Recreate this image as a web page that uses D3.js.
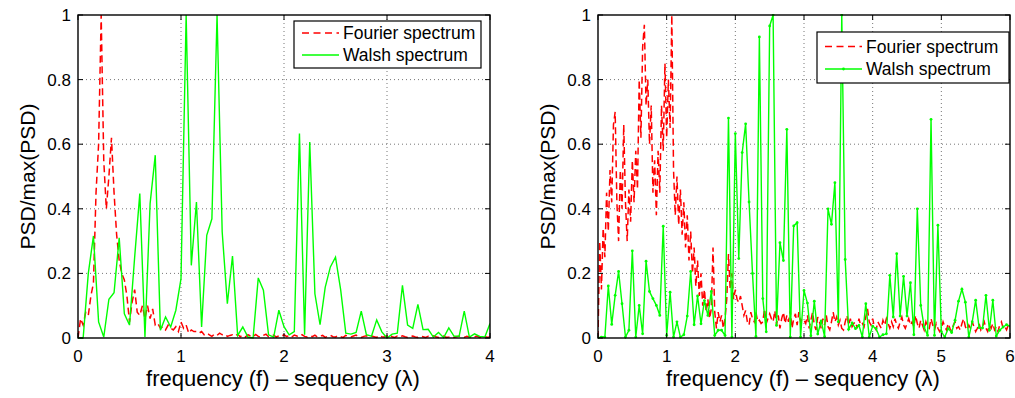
<!DOCTYPE html>
<html>
<head>
<meta charset="utf-8">
<script src="https://cdn.jsdelivr.net/npm/d3@7"></script>
<style>
  body { margin: 0; background: #fff; }
  svg { display: block; font-family: "Liberation Sans", Arial, Helvetica, sans-serif; }
</style>
</head>
<body>
<div id="chart"></div>
<script>
// left panel: f in [0,4]
const walshStepL = 0.05;
const walshL = [
  0, 0, 0.2, 0.316, 0.05, 0.003, 0.12, 0.14, 0.31, 0.075,
  0.04, 0.25, 0.447, 0.003, 0.416, 0.566, 0.024, 0.065, 0.034, 0.086,
  0.184, 1.0, 0.225, 0.421, 0.034, 0.318, 0.369, 1.0, 0.328, 0.106,
  0.254, 0.008, 0.034, 0.003, 0.0, 0.186, 0.148, 0.01, 0.003, 0.086,
  0.035, 0.01, 0.02, 0.633, 0.01, 0.607, 0.137, 0.041, 0.157, 0.22,
  0.25, 0.15, 0.015, 0.012, 0.017, 0.083, 0.01, 0.006, 0.056, 0.019,
  0.0, 0.012, 0.015, 0.163, 0.04, 0.03, 0.104, 0.026, 0.027, 0.003,
  0.017, 0.001, 0.031, 0.006, 0.005, 0.083, 0.003, 0.013, 0.005, 0.003,
  0.045
];
const fourierStepL = 0.025;
const fourierL = [
  0.0, 0.06, 0.04, 0.08, 0.07, 0.13, 0.17, 0.45, 0.6, 1.0,
  0.55, 0.4, 0.5, 0.62, 0.45, 0.32, 0.24, 0.2, 0.18, 0.13,
  0.05, 0.11, 0.15, 0.08, 0.07, 0.1, 0.06, 0.1, 0.06, 0.09,
  0.04, 0.045, 0.03, 0.035, 0.025, 0.04, 0.03, 0.025, 0.035, 0.02,
  0.05, 0.03, 0.04, 0.015, 0.025, 0.02, 0.02, 0.015, 0.02, 0.01,
  0.015, 0.01, 0.005, 0.012, 0.008, 0.015, 0.01, 0.012, 0.005, 0.008,
  0.01, 0.006, 0.012, 0.004, 0.009, 0.003, 0.01, 0.006, 0.004, 0.011,
  0.005, 0.003, 0.008, 0.012, 0.004, 0.006, 0.009, 0.003, 0.007, 0.005,
  0.01, 0.004, 0.008, 0.003, 0.009, 0.006, 0.004, 0.01, 0.005, 0.003,
  0.007, 0.004, 0.009, 0.003, 0.006, 0.008, 0.002, 0.005, 0.009, 0.004,
  0.003, 0.007, 0.004, 0.002, 0.008, 0.005, 0.003, 0.006, 0.009, 0.004,
  0.002, 0.005, 0.007, 0.003, 0.006, 0.004, 0.002, 0.008, 0.004, 0.003,
  0.006, 0.01, 0.004, 0.002, 0.006, 0.003, 0.007, 0.004, 0.002, 0.005,
  0.006, 0.003, 0.002, 0.006, 0.004, 0.002, 0.005, 0.003, 0.007, 0.004,
  0.002, 0.004, 0.006, 0.002, 0.003, 0.005, 0.002, 0.004, 0.006, 0.003,
  0.002, 0.005, 0.003, 0.002, 0.004, 0.006, 0.002, 0.003, 0.005, 0.002,
  0.003
];

// right panel: f in [0,6]
const walshStepR = 0.05;
const walshR = [
  0.0, 0.003, 0.003, 0.161, 0.042, 0.132, 0.206, 0.106, 0.003, 0.024,
  0.27, 0.003, 0.101, 0.013, 0.238, 0.144, 0.122, 0.101, 0.07, 0.346,
  0.008, 0.142, 0.003, 0.05, 0.003, 0.01, 0.068, 0.206, 0.041, 0.13,
  0.044, 0.116, 0.07, 0.144, 0.008, 0.024, 0.024, 0.008, 0.681, 0.003,
  0.633, 0.246, 0.574, 0.663, 0.421, 0.2, 0.005, 0.932, 0.122, 0.019,
  0.966, 1.0, 0.039, 0.295, 0.24, 0.646, 0.003, 0.347, 0.357, 0.003,
  0.147, 0.108, 0.007, 0.114, 0.012, 0.053, 0.004, 0.4, 0.352, 0.481,
  0.05, 1.0, 0.243, 0.027, 0.047, 0.029, 0.039, 0.003, 0.106, 0.003,
  0.037, 0.029, 0.003, 0.01, 0.013, 0.194, 0.065, 0.261, 0.068, 0.191,
  0.068, 0.171, 0.01, 0.4, 0.101, 0.034, 0.008, 0.677, 0.008, 0.349,
  0.02, 0.003, 0.029, 0.017, 0.055, 0.114, 0.151, 0.111, 0.003, 0.05,
  0.117, 0.032, 0.031, 0.132, 0.024, 0.117, 0.006, 0.024, 0.034, 0.041,
  0.037
];
const fourierStepR = 0.025;
const fourierR = [
  0.0, 0.3, 0.15, 0.34, 0.25, 0.45, 0.33, 0.52, 0.42, 0.66,
  0.7, 0.42, 0.3, 0.52, 0.4, 0.66, 0.42, 0.3, 0.46, 0.36,
  0.55, 0.42, 0.58, 0.46, 0.8, 0.62, 0.9, 0.97, 0.72, 0.8,
  0.6, 0.72, 0.45, 0.55, 0.38, 0.58, 0.45, 0.72, 0.58, 0.85,
  0.62, 0.8, 0.65, 1.0, 0.52, 0.38, 0.5, 0.35, 0.46, 0.32,
  0.42, 0.28, 0.38, 0.24, 0.33, 0.2, 0.28, 0.16, 0.24, 0.13,
  0.2, 0.1, 0.15, 0.08, 0.12, 0.06, 0.09, 0.28, 0.08, 0.03,
  0.08, 0.05, 0.07, 0.03, 0.06, 0.12, 0.26, 0.15, 0.2, 0.12,
  0.15,
  0.12, 0.11, 0.13, 0.1, 0.07, 0.085, 0.05, 0.04, 0.08,
  0.06, 0.05, 0.08, 0.05, 0.055, 0.045, 0.05, 0.09, 0.045, 0.06,
  0.075,
  0.06, 0.05, 0.085, 0.04, 0.07, 0.03, 0.06, 0.08, 0.045, 0.07,
  0.05, 0.085, 0.03, 0.06, 0.075, 0.04, 0.08, 0.05, 0.06, 0.055,
  0.045, 0.07, 0.03, 0.055, 0.08, 0.04, 0.025, 0.065, 0.05, 0.03,
  0.06, 0.04, 0.07, 0.035, 0.025, 0.05, 0.08, 0.05, 0.065, 0.04,
  0.055, 0.03, 0.025, 0.05, 0.07, 0.04, 0.06, 0.035, 0.045, 0.05,
  0.03, 0.06, 0.04, 0.045, 0.035, 0.065, 0.09, 0.05, 0.04, 0.06,
  0.035, 0.025, 0.05, 0.04, 0.03, 0.055, 0.04, 0.06, 0.045, 0.03,
  0.05, 0.035, 0.06, 0.04, 0.03, 0.05, 0.065, 0.04, 0.03, 0.045,
  0.06, 0.04, 0.05, 0.035, 0.07, 0.045, 0.03, 0.055, 0.04, 0.025,
  0.05, 0.035, 0.03, 0.06, 0.04, 0.025, 0.045, 0.03, 0.02, 0.03,
  0.05, 0.035, 0.025, 0.045, 0.03, 0.02, 0.04, 0.05, 0.03, 0.035,
  0.025, 0.045, 0.06, 0.035, 0.025, 0.04, 0.03, 0.05, 0.035, 0.02,
  0.03, 0.045, 0.025, 0.035, 0.05, 0.03, 0.02, 0.04, 0.03, 0.045,
  0.025, 0.035, 0.02, 0.04, 0.05, 0.03, 0.035, 0.025, 0.04, 0.03
];

const xTicksL = [0, 1, 2, 3, 4];
const xTicksR = [0, 1, 2, 3, 4, 5, 6];
const yTicks = [0, 0.2, 0.4, 0.6, 0.8, 1];
const legendLabels = ['Fourier spectrum', 'Walsh spectrum'];
const xLabel = 'frequency (f) \u2013 sequency (\u03bb)';
const yLabel = 'PSD/max(PSD)';

const W = 1015, H = 398;
const plotTop = 15, plotBottom = 338;

const svg = d3.select('#chart').append('svg')
    .attr('width', W)
    .attr('height', H);

function toPts(vals, step) {
  return vals.map((v, i) => [i * step, v]);
}

function drawPanel(o) {
  const x = d3.scaleLinear().domain([0, o.xMax]).range([o.left, o.right]);
  const y = d3.scaleLinear().domain([0, 1]).range([plotBottom, plotTop]);
  const g = svg.append('g');

  const clipId = 'clip' + o.id;
  svg.append('clipPath').attr('id', clipId)
    .append('rect')
    .attr('x', o.left).attr('y', plotTop - 1)
    .attr('width', o.right - o.left).attr('height', plotBottom - plotTop + 2);

  // dotted grid
  g.append('g').selectAll('line')
    .data(o.xTicks.filter(t => t > 0 && t < o.xMax))
    .enter().append('line')
    .attr('x1', d => x(d)).attr('x2', d => x(d))
    .attr('y1', plotTop).attr('y2', plotBottom)
    .attr('stroke', '#666').attr('stroke-width', 0.9)
    .attr('stroke-dasharray', '1,3');
  g.append('g').selectAll('line')
    .data(yTicks.filter(t => t > 0 && t < 1))
    .enter().append('line')
    .attr('x1', o.left).attr('x2', o.right)
    .attr('y1', d => y(d)).attr('y2', d => y(d))
    .attr('stroke', '#666').attr('stroke-width', 0.9)
    .attr('stroke-dasharray', '1,3');

  const line = d3.line().x(d => x(d[0])).y(d => y(d[1]));
  const plot = g.append('g').attr('clip-path', 'url(#' + clipId + ')');

  plot.append('path')
    .datum(o.fourier)
    .attr('d', line)
    .attr('fill', 'none')
    .attr('stroke', '#ff0000')
    .attr('stroke-width', 1.5)
    .attr('stroke-dasharray', '7,4');

  plot.append('path')
    .datum(o.walsh)
    .attr('d', line)
    .attr('fill', 'none')
    .attr('stroke', '#00ff00')
    .attr('stroke-width', 1.4);

  if (o.markers) {
    plot.selectAll('circle')
      .data(o.walsh)
      .enter().append('circle')
      .attr('cx', d => x(d[0])).attr('cy', d => y(d[1]))
      .attr('r', 1.4)
      .attr('fill', '#00ff00');
  }

  // frame
  g.append('rect')
    .attr('x', o.left).attr('y', plotTop)
    .attr('width', o.right - o.left).attr('height', plotBottom - plotTop)
    .attr('fill', 'none').attr('stroke', '#000').attr('stroke-width', 1.4);

  // inward ticks on all sides
  const tl = 5;
  o.xTicks.forEach(t => {
    g.append('line').attr('x1', x(t)).attr('x2', x(t))
      .attr('y1', plotBottom).attr('y2', plotBottom - tl).attr('stroke', '#000');
    g.append('line').attr('x1', x(t)).attr('x2', x(t))
      .attr('y1', plotTop).attr('y2', plotTop + tl).attr('stroke', '#000');
  });
  yTicks.forEach(t => {
    g.append('line').attr('x1', o.left).attr('x2', o.left + tl)
      .attr('y1', y(t)).attr('y2', y(t)).attr('stroke', '#000');
    g.append('line').attr('x1', o.right).attr('x2', o.right - tl)
      .attr('y1', y(t)).attr('y2', y(t)).attr('stroke', '#000');
  });

  g.append('g').selectAll('text')
    .data(o.xTicks)
    .enter().append('text')
    .attr('x', d => x(d)).attr('y', 362)
    .attr('text-anchor', 'middle')
    .style('font-size', '17px')
    .text(d => d);
  g.append('g').selectAll('text')
    .data(yTicks)
    .enter().append('text')
    .attr('x', o.left - 7).attr('y', d => y(d))
    .attr('dy', '0.35em')
    .attr('text-anchor', 'end')
    .style('font-size', '17px')
    .text(d => d);

  g.append('text')
    .attr('x', (o.left + o.right) / 2 - 1).attr('y', 386)
    .attr('text-anchor', 'middle')
    .style('font-size', '22px')
    .text(xLabel);
  g.append('text')
    .attr('transform', 'translate(' + o.yLabelX + ',' + ((plotTop + plotBottom) / 2) + ') rotate(-90)')
    .attr('text-anchor', 'middle')
    .style('font-size', '21px')
    .text(yLabel);

  // legend
  const L = o.legend;
  const lg = g.append('g');
  lg.append('rect')
    .attr('x', L.x).attr('y', L.y).attr('width', L.w).attr('height', L.h)
    .attr('fill', '#fff').attr('stroke', '#000').attr('stroke-width', 1.2);
  L.rows.forEach((ry, i) => {
    lg.append('line')
      .attr('x1', L.x + 8).attr('x2', L.x + 45)
      .attr('y1', ry).attr('y2', ry)
      .attr('stroke', i === 0 ? '#ff0000' : '#00ff00')
      .attr('stroke-width', i === 0 ? 1.5 : 1.4)
      .attr('stroke-dasharray', i === 0 ? '7,4.5' : null);
    if (i === 1 && o.markers) {
      lg.append('circle').attr('cx', L.x + 26.5).attr('cy', ry)
        .attr('r', 1.4).attr('fill', '#00ff00');
    }
    lg.append('text')
      .attr('x', L.x + 49).attr('y', ry)
      .attr('dy', '0.35em')
      .style('font-size', '17.5px')
      .text(legendLabels[i]);
  });
}

drawPanel({
  id: 'L', left: 78, right: 490, xMax: 4, xTicks: xTicksL,
  walsh: toPts(walshL, walshStepL),
  fourier: toPts(fourierL, fourierStepL),
  markers: false, yLabelX: 35,
  legend: { x: 294, y: 21, w: 187, h: 47, rows: [33, 55] }
});

drawPanel({
  id: 'R', left: 598, right: 1010, xMax: 6, xTicks: xTicksR,
  walsh: toPts(walshR, walshStepR),
  fourier: toPts(fourierR, fourierStepR),
  markers: true, yLabelX: 555,
  legend: { x: 817, y: 32, w: 192, h: 51, rows: [46.5, 69] }
});
</script>
</body>
</html>
